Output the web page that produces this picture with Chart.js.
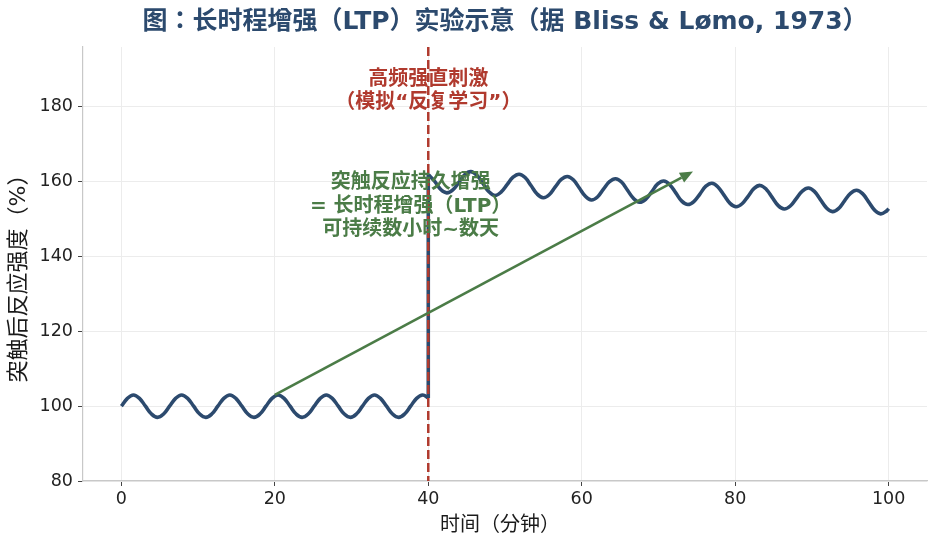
<!DOCTYPE html>
<html><head><meta charset="utf-8">
<script src="https://cdn.jsdelivr.net/npm/chart.js@4.4.1/dist/chart.umd.min.js"></script>
<style>html,body{margin:0;padding:0;background:#fff;}canvas{display:block;}</style>
</head><body>
<canvas id="c" width="937" height="547"></canvas>
<script>
// ---- data ----
// baseline recording, before the tetanus
const preTime = [
  0, 0.79, 1.57, 2.36, 3.14, 3.93, 4.71, 5.50, 6.28, 7.07, 7.85, 8.64, 9.42, 10.21, 11.00, 11.78,
  12.57, 13.35, 14.14, 14.92, 15.71, 16.49, 17.28, 18.06, 18.85, 19.63, 20.42, 21.21, 21.99, 22.78, 23.56, 24.35,
  25.13, 25.92, 26.70, 27.49, 28.27, 29.06, 29.85, 30.63, 31.42, 32.20, 32.99, 33.77, 34.56, 35.34, 36.13, 36.91,
  37.70, 38.48, 39.27, 40
];
const preResp = [
  100, 102.1, 103, 102.1, 100, 97.9, 97, 97.9, 100, 102.1, 103, 102.1, 100, 97.9, 97, 97.9,
  100, 102.1, 103, 102.1, 100, 97.9, 97, 97.9, 100, 102.1, 103, 102.1, 100, 97.9, 97, 97.9,
  100, 102.1, 103, 102.1, 100, 97.9, 97, 97.9, 100, 102.1, 103, 102.1, 100, 97.9, 97, 97.9,
  100, 102.1, 103, 102.2
];
// potentiated recording, after the tetanus
const postTime = [
  40, 40.84, 41.63, 42.41, 43.20, 43.98, 44.77, 45.55, 46.34, 47.12, 47.91, 48.69, 49.48,
  50.27, 51.05, 51.84, 52.62, 53.41, 54.19, 54.98, 55.76, 56.55, 57.33, 58.12, 58.90,
  59.69, 60.48, 61.26, 62.05, 62.83, 63.62, 64.40, 65.19, 65.97, 66.76, 67.54, 68.33,
  69.12, 69.90, 70.69, 71.47, 72.26, 73.04, 73.83, 74.61, 75.40, 76.18, 76.97, 77.75,
  78.54, 79.33, 80.11, 80.90, 81.68, 82.47, 83.25, 84.04, 84.82, 85.61, 86.39, 87.18,
  87.96, 88.75, 89.54, 90.32, 91.11, 91.89, 92.68, 93.46, 94.25, 95.03, 95.82, 96.60,
  97.39, 98.17, 98.96, 99.75, 100
];
const postResp = [
  161.9, 160.1, 157.9, 157.0, 157.8, 159.8, 161.9, 162.7, 161.7, 159.5, 157.3, 156.3, 157.2,
  159.2, 161.2, 162.0, 161.1, 158.9, 156.7, 155.7, 156.5, 158.6, 160.6, 161.4, 160.5,
  158.3, 156.1, 155.1, 155.9, 158.0, 160.0, 160.8, 159.9, 157.7, 155.5, 154.5, 155.3,
  157.3, 159.4, 160.2, 159.2, 157.0, 154.8, 153.9, 154.7, 156.7, 158.8, 159.6, 158.6,
  156.4, 154.2, 153.3, 154.1, 156.1, 158.2, 159.0, 158.0, 155.8, 153.6, 152.7, 153.5,
  155.5, 157.5, 158.3, 157.4, 155.2, 153.0, 152.0, 152.8, 154.9, 156.9, 157.7, 156.8,
  154.6, 152.4, 151.4, 152.2, 152.8
];
const xTicks = [0, 20, 40, 60, 80, 100];
const yTicks = [80, 100, 120, 140, 160, 180];
const stimTime = 40;
const arrowFrom = [20, 103];
const arrowTo = [74.5, 162.7];

const titleText = '图：长时程增强（LTP）实验示意（据 Bliss & Lømo, 1973）';
const xLabel = '时间（分钟）';
const yLabel = '突触后反应强度（%）';
const stimLines = ['高频强直刺激', '（模拟“反复学习”）'];
const ltpLines = ['突触反应持久增强', '= 长时程增强（LTP）', '可持续数小时~数天'];

// ---- styles ----
const BLUE = '#2c4a6e';
const RED = '#b03a2e';
const GREEN = '#4b7c47';
const FONT = '"DejaVu Sans", "Noto Sans CJK JP", "Noto Sans CJK SC", sans-serif';

const overlay = {
  id: 'overlay',
  afterDatasetsDraw(chart) {
    const { ctx, chartArea: a, scales: { x, y } } = chart;
    ctx.save();
    const sx = x.getPixelForValue(stimTime);
    ctx.strokeStyle = RED; ctx.lineWidth = 2.5; ctx.setLineDash([9, 4]);
    ctx.beginPath(); ctx.moveTo(sx, a.top); ctx.lineTo(sx, a.bottom); ctx.stroke();
    ctx.setLineDash([]);
    const x0 = x.getPixelForValue(arrowFrom[0]), y0 = y.getPixelForValue(arrowFrom[1]);
    const x1 = x.getPixelForValue(arrowTo[0]), y1 = y.getPixelForValue(arrowTo[1]);
    const ang = Math.atan2(y1 - y0, x1 - x0);
    const hl = 13, hw = 5.5;
    const bx = x1 - hl * Math.cos(ang), by = y1 - hl * Math.sin(ang);
    ctx.strokeStyle = GREEN; ctx.fillStyle = GREEN; ctx.lineWidth = 2.6; ctx.lineCap = 'butt';
    ctx.beginPath(); ctx.moveTo(x0, y0); ctx.lineTo(bx, by); ctx.stroke();
    ctx.beginPath();
    ctx.moveTo(x1, y1);
    ctx.lineTo(bx + hw * Math.sin(ang), by - hw * Math.cos(ang));
    ctx.lineTo(bx - hw * Math.sin(ang), by + hw * Math.cos(ang));
    ctx.closePath(); ctx.fill();
    ctx.textAlign = 'center'; ctx.textBaseline = 'middle';
    ctx.font = 'bold 20px ' + FONT;
    ctx.fillStyle = RED;
    const rx = x.getPixelForValue(40);
    const rTop = y.getPixelForValue(187.3);
    stimLines.forEach((t, i) => ctx.fillText(t, rx, rTop + i * 23));
    ctx.fillStyle = GREEN;
    const gx = x.getPixelForValue(37.7);
    const gTop = y.getPixelForValue(159.7);
    ltpLines.forEach((t, i) => ctx.fillText(t, gx, gTop + i * 23.5));
    ctx.restore();
  },
  afterDraw(chart) {
    const { ctx } = chart;
    ctx.save();
    ctx.textAlign = 'center'; ctx.textBaseline = 'middle';
    ctx.fillStyle = BLUE;
    ctx.font = 'bold 25px ' + FONT;
    ctx.fillText(titleText, 505, 22);
    ctx.fillStyle = '#1a1a1a';
    ctx.font = '20px ' + FONT;
    ctx.fillText(xLabel, 500, 526);
    ctx.font = '22px ' + FONT;
    ctx.translate(19, 273);
    ctx.rotate(-Math.PI / 2);
    ctx.fillText(yLabel, 0, 0);
    ctx.restore();
  }
};

const toPts = (xs, ys) => xs.map((t, i) => ({ x: t, y: ys[i] }));
const lineStyle = { borderColor: BLUE, borderWidth: 3.6, pointRadius: 0, fill: false };

new Chart(document.getElementById('c'), {
  type: 'line',
  data: {
    datasets: [
      Object.assign({ data: toPts(preTime, preResp), tension: 0.4 }, lineStyle),
      Object.assign({ data: [
        { x: preTime[preTime.length - 1], y: preResp[preResp.length - 1] },
        { x: postTime[0], y: postResp[0] }
      ], tension: 0 }, lineStyle),
      Object.assign({ data: toPts(postTime, postResp), tension: 0.4 }, lineStyle)
    ]
  },
  options: {
    responsive: false,
    animation: false,
    layout: { padding: { top: 47, right: 10, left: 0, bottom: 0 } },
    plugins: { legend: { display: false }, tooltip: { enabled: false } },
    scales: {
      x: {
        type: 'linear', min: -5, max: 105,
        afterBuildTicks: s => { s.ticks = xTicks.map(v => ({ value: v })); },
        afterFit: s => { s.height = 66; },
        ticks: { font: { family: '"DejaVu Sans", sans-serif', size: 17.5 }, color: '#222', padding: 3, maxRotation: 0 },
        grid: { color: '#ececec', lineWidth: 1, tickColor: '#444', tickLength: 5 },
        border: { color: '#c8c8c8', width: 1.2 }
      },
      y: {
        type: 'linear', min: 80, max: 196,
        afterBuildTicks: s => { s.ticks = yTicks.map(v => ({ value: v })); },
        afterFit: s => { s.width = 83; },
        ticks: { font: { family: '"DejaVu Sans", sans-serif', size: 17.5 }, color: '#222', padding: 5 },
        grid: { color: '#ececec', lineWidth: 1, tickColor: '#444', tickLength: 5 },
        border: { color: '#c8c8c8', width: 1.2 }
      }
    }
  },
  plugins: [overlay]
});
</script>
</body></html>
